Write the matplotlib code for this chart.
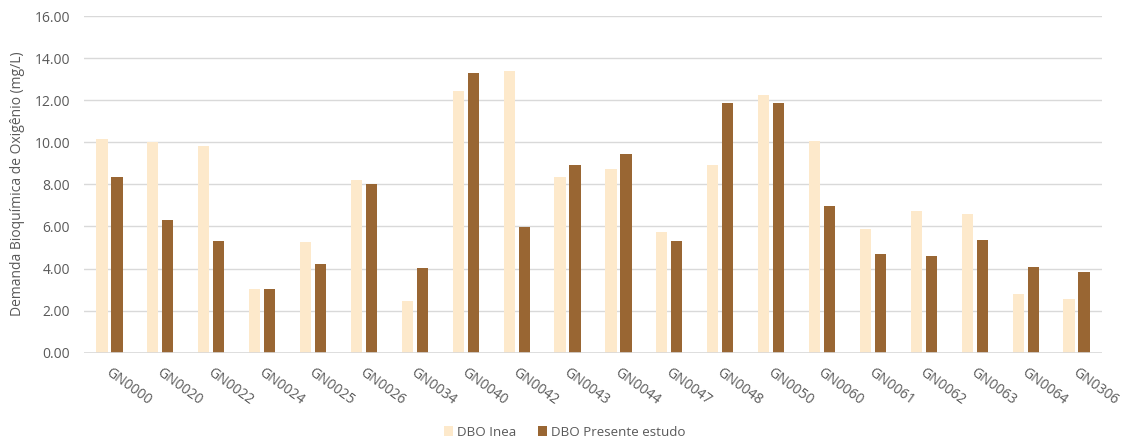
import numpy as np
import matplotlib
matplotlib.use("Agg")
import matplotlib.pyplot as plt
from matplotlib.transforms import ScaledTranslation
from matplotlib.ticker import FormatStrFormatter

plt.rcParams['font.family'] = ['Open Sans', 'DejaVu Sans']

stations = ["GN0000", "GN0020", "GN0022", "GN0024", "GN0025", "GN0026", "GN0034",
            "GN0040", "GN0042", "GN0043", "GN0044", "GN0047", "GN0048", "GN0050",
            "GN0060", "GN0061", "GN0062", "GN0063", "GN0064", "GN0306"]
dbo_inea = [10.16, 10.00, 9.84, 3.03, 5.25, 8.22, 2.46, 12.42, 13.39, 8.35,
            8.72, 5.74, 8.92, 12.25, 10.06, 5.89, 6.73, 6.58, 2.80, 2.57]
dbo_estudo = [8.34, 6.31, 5.29, 3.03, 4.22, 8.02, 4.03, 13.31, 5.97, 8.92,
              9.44, 5.29, 11.85, 11.88, 6.96, 4.68, 4.60, 5.34, 4.07, 3.84]
series_names = ["DBO Inea", "DBO Presente estudo"]
y_label = "Demanda Bioquímica de Oxigênio (mg/L)"

light = "#FDE9CB"
dark = "#996633"
text_gray = "#595959"
grid_gray = "#D9D9D9"

fig = plt.figure(figsize=(11.23, 4.45), dpi=100)
ax = fig.add_axes([84 / 1123, 92.3 / 445, (1102 - 84) / 1123, (352.7 - 16) / 445])

x = np.arange(len(stations))
w = 0.22
off = 0.147
ax.bar(x - off, dbo_inea, width=w, color=light, label=series_names[0], zorder=3)
ax.bar(x + off, dbo_estudo, width=w, color=dark, label=series_names[1], zorder=3)

ax.set_xlim(-0.5, len(stations) - 0.5)
ax.set_ylim(0, 16)
ax.set_yticks(np.arange(0, 16.01, 2))
ax.yaxis.set_major_formatter(FormatStrFormatter("%.2f"))
ax.grid(axis="y", color=grid_gray, linewidth=1.0, zorder=0)
for s in ax.spines.values():
    s.set_visible(False)
ax.axhline(0, color=grid_gray, linewidth=1.2, zorder=4)

ax.tick_params(axis="both", length=0, colors=text_gray, labelsize=10)
ax.tick_params(axis="y", pad=10)
ax.set_xticks(x)
ax.set_xticklabels(stations, rotation=-36, ha="left", va="top",
                   rotation_mode="anchor", fontsize=10, color=text_gray)
shift = ScaledTranslation(2 / 100, -8 / 100, fig.dpi_scale_trans)
for lbl in ax.get_xticklabels():
    lbl.set_transform(lbl.get_transform() + shift)

fig.text(18 / 1123, 1 - 184 / 445, y_label, rotation=90, ha="center", va="center",
         fontsize=10, color=text_gray)

fig.legend(loc="center", bbox_to_anchor=(0.503, 13 / 445), ncol=2, frameon=False,
           fontsize=9.6, labelcolor=text_gray, handlelength=0.7, handleheight=0.7,
           handletextpad=0.3, columnspacing=1.6)

fig.savefig("out.png", dpi=100, facecolor="white")
